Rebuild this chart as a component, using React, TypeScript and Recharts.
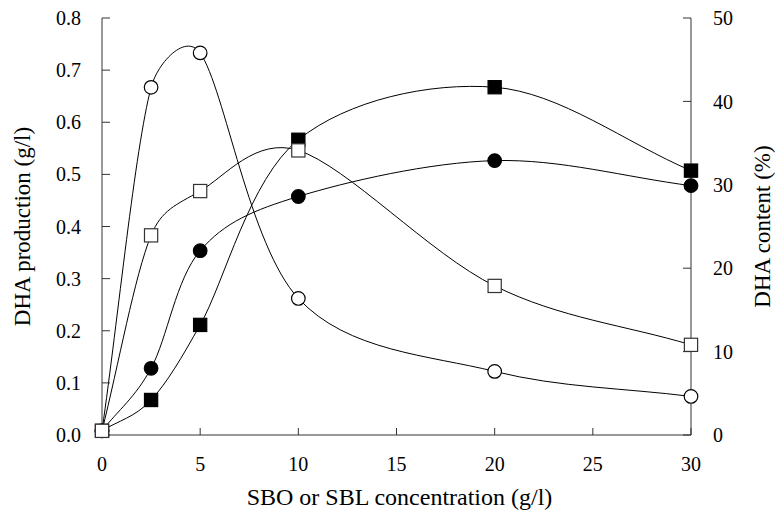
import { Label, Line, LineChart, XAxis, YAxis } from "recharts";

// SBO / SBL concentration (g/l)
const concentration = [0, 2.5, 5, 10, 20, 30];

// DHA production (g/l), left axis
const openCircles = [0.008, 0.667, 0.733, 0.262, 0.122, 0.074];
const openSquares = [0.008, 0.383, 0.468, 0.546, 0.286, 0.173];

// DHA content (%), right axis
const filledCircles = [0.5, 8.0, 22.1, 28.6, 32.9, 29.9];
const filledSquares = [0.5, 4.2, 13.2, 35.4, 41.7, 31.7];

const xTicks = [0, 5, 10, 15, 20, 25, 30];
const productionTicks = [0, 0.1, 0.2, 0.3, 0.4, 0.5, 0.6, 0.7, 0.8];
const contentTicks = [0, 10, 20, 30, 40, 50];

const chartData = concentration.map((c, i) => ({
  c,
  oc: openCircles[i],
  os: openSquares[i],
  fc: filledCircles[i],
  fs: filledSquares[i],
}));

const FONT = "'Liberation Serif', 'Times New Roman', serif";
const AXIS = "#333";

// handle of a bezier segment: catmull-rom tangent, capped at part of the segment
function handle(dx: number, dy: number, f: number, seg: number) {
  const len = Math.hypot(dx, dy);
  if (!len) return [0, 0];
  const cap = seg * 0.42;
  const k = len * f > cap ? cap / len : f;
  return [dx * k, dy * k];
}

// smoothed line, spreadsheet style
function smoothCurve(context: any) {
  let xs: number[] = [];
  let ys: number[] = [];
  return {
    areaStart() {},
    areaEnd() {},
    lineStart() {
      xs = [];
      ys = [];
    },
    point(x: number, y: number) {
      xs.push(+x);
      ys.push(+y);
    },
    lineEnd() {
      const n = xs.length;
      if (!n) return;
      context.moveTo(xs[0], ys[0]);
      for (let i = 0; i < n - 1; i++) {
        const a = Math.max(i - 1, 0);
        const b = Math.min(i + 2, n - 1);
        const seg = Math.hypot(xs[i + 1] - xs[i], ys[i + 1] - ys[i]);
        const h1 = handle(xs[i + 1] - xs[a], ys[i + 1] - ys[a], a === i ? 1 / 3 : 1 / 6, seg);
        const h2 = handle(xs[b] - xs[i], ys[b] - ys[i], b === i + 1 ? 1 / 3 : 1 / 6, seg);
        context.bezierCurveTo(
          xs[i] + h1[0],
          ys[i] + h1[1],
          xs[i + 1] - h2[0],
          ys[i + 1] - h2[1],
          xs[i + 1],
          ys[i + 1]
        );
      }
    },
  };
}

const Circle = ({ cx, cy, filled }: any) =>
  cx == null || cy == null ? null : (
    <circle cx={cx} cy={cy} r={6.8} fill={filled ? "#000" : "#fff"} stroke="#000" strokeWidth={1.2} />
  );

const Square = ({ cx, cy, filled }: any) =>
  cx == null || cy == null ? null : (
    <rect x={cx - 6.6} y={cy - 6.6} width={13.2} height={13.2} fill={filled ? "#000" : "#fff"} stroke={filled ? "#000" : "#333"} strokeWidth={1.2} />
  );

const AxisTitle = ({ viewBox, text, side }: any) => {
  if (!viewBox) return null;
  const { x, y, width, height } = viewBox;
  if (side === "bottom") {
    return (
      <text x={x + width / 2 + 3} y={y + 62} textAnchor="middle" dominantBaseline="central" fontSize={24} fontFamily={FONT} fill="#000">
        {text}
      </text>
    );
  }
  const tx = side === "left" ? x + 22 : x + 71;
  const ty = y + height / 2;
  return (
    <text x={tx} y={ty} transform={`rotate(-90, ${tx}, ${ty})`} textAnchor="middle" dominantBaseline="central" fontSize={23} fontFamily={FONT} fill="#000">
      {text}
    </text>
  );
};

const tickStyle = { fontSize: 20, fontFamily: FONT, fill: "#000" };

export default function App() {
  return (
    <div style={{ position: "absolute", left: 0, top: 0, background: "#fff" }}>
      <LineChart width={777} height={513} data={chartData} margin={{ top: 18, right: 0, bottom: 0, left: 0 }}>
        <XAxis
          dataKey="c"
          type="number"
          domain={[0, 30]}
          ticks={xTicks}
          height={78}
          stroke={AXIS}
          tickSize={-7}
          tickMargin={29}
          tick={tickStyle}
          interval={0}
        >
          <Label content={<AxisTitle side="bottom" text="SBO or SBL concentration (g/l)" />} />
        </XAxis>
        <XAxis xAxisId="top" orientation="top" type="number" domain={[0, 30]} height={0} tick={false} tickLine={false} stroke={AXIS} />
        <YAxis
          yAxisId="prod"
          domain={[0, 0.8]}
          ticks={productionTicks}
          width={102}
          stroke={AXIS}
          tickSize={-8}
          tickMargin={29}
          tick={tickStyle}
          interval={0}
          tickFormatter={(v: number) => v.toFixed(1)}
        >
          <Label content={<AxisTitle side="left" text="DHA production (g/l)" />} />
        </YAxis>
        <YAxis
          yAxisId="content"
          orientation="right"
          domain={[0, 50]}
          ticks={contentTicks}
          width={86}
          stroke={AXIS}
          tickSize={-8}
          tickMargin={30}
          tick={{ ...tickStyle, textAnchor: "start" }}
          interval={0}
        >
          <Label content={<AxisTitle side="right" text="DHA content (%)" />} />
        </YAxis>
        <Line yAxisId="content" dataKey="fc" type={smoothCurve as any} stroke="#000" strokeWidth={1} dot={<Circle filled />} activeDot={false} isAnimationActive={false} />
        <Line yAxisId="content" dataKey="fs" type={smoothCurve as any} stroke="#000" strokeWidth={1} dot={<Square filled />} activeDot={false} isAnimationActive={false} />
        <Line yAxisId="prod" dataKey="oc" type={smoothCurve as any} stroke="#000" strokeWidth={1} dot={<Circle />} activeDot={false} isAnimationActive={false} />
        <Line yAxisId="prod" dataKey="os" type={smoothCurve as any} stroke="#000" strokeWidth={1} dot={<Square />} activeDot={false} isAnimationActive={false} />
      </LineChart>
    </div>
  );
}
